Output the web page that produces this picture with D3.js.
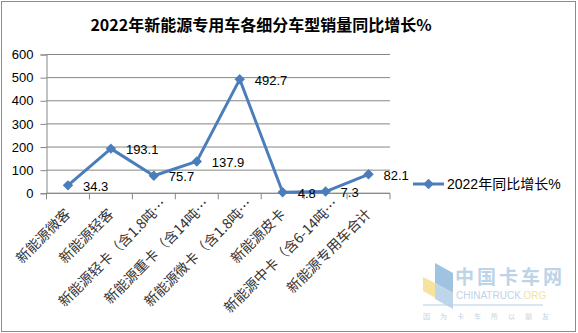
<!DOCTYPE html>
<html>
<head>
<meta charset="utf-8">
<script src="https://cdn.jsdelivr.net/npm/d3@7"></script>
<style>
  body { margin: 0; background: #fff; }
  svg text { font-family: "Liberation Sans", "Noto Sans CJK SC", sans-serif; }
</style>
</head>
<body>
<div id="chart"></div>
<script>
// data
var categories = ["新能源微客", "新能源轻客", "新能源轻卡（含1.8吨…", "新能源重卡（含14吨…",
    "新能源微卡（含1.8吨…", "新能源皮卡", "新能源中卡（含6-14吨…", "新能源专用车合计"];
var growth = [34.3, 193.1, 75.7, 137.9, 492.7, 4.8, 7.3, 82.1];
var yTicks = [0, 100, 200, 300, 400, 500, 600];
var seriesName = "2022年同比增长%";
var title = "2022年新能源专用车各细分车型销量同比增长%";

var width = 578, height = 333;
var blue = "#4a7ebb";
var gridColor = "#868686";

var margin = { top: 54.5, right: 188, bottom: 140, left: 46.5 };

var svg = d3.select("#chart").append("svg")
    .attr("width", width)
    .attr("height", height);

// outer frame
svg.append("rect")
    .attr("x", 1.5).attr("y", 1.5)
    .attr("width", width - 4).attr("height", height - 3)
    .attr("fill", "none")
    .attr("stroke", "#8c8c8c")
    .attr("stroke-width", 1);

svg.append("text")
    .attr("x", 261).attr("y", 31)
    .attr("text-anchor", "middle")
    .style("font-family", "'Noto Sans CJK SC', sans-serif")
    .style("font-weight", "bold")
    .style("font-size", "16px")
    .text(title);

var x = d3.scaleBand()
    .domain(categories)
    .range([margin.left, 390]);

var y = d3.scaleLinear()
    .domain([0, 600])
    .range([193.3, margin.top]);

// gridlines
svg.append("g")
    .selectAll("line")
    .data(yTicks).enter()
    .append("line")
    .attr("x1", margin.left).attr("x2", 390)
    .attr("y1", d => y(d)).attr("y2", d => y(d))
    .attr("stroke", gridColor)
    .attr("stroke-width", 1);

// y axis
var yAxis = svg.append("g")
    .attr("transform", `translate(${margin.left},0)`)
    .call(d3.axisLeft(y).tickValues(yTicks).tickSize(6).tickPadding(7));
yAxis.selectAll("path, line").attr("stroke", gridColor);
yAxis.selectAll("text").style("font-size", "13px").attr("fill", "#000")
    .attr("font-family", null);

// x axis with ticks between categories
var xAxis = svg.append("g")
    .attr("transform", `translate(0,${y(0)})`);
xAxis.append("line")
    .attr("x1", margin.left).attr("x2", 390)
    .attr("stroke", gridColor);
var bounds = categories.map(d => x(d)).concat([390]);
xAxis.selectAll(".tick")
    .data(bounds).enter()
    .append("line")
    .attr("x1", d => d).attr("x2", d => d)
    .attr("y1", 0).attr("y2", 6)
    .attr("stroke", gridColor);

// truncated labels let the ellipsis hang past the tick
xAxis.selectAll(".catLabel")
    .data(categories).enter()
    .append("text")
    .attr("class", "catLabel")
    .attr("transform", function(d) {
        var hang = d.endsWith("…") ? 10 : 0;
        return `translate(${x(d) + x.bandwidth() / 2 + hang},${18 - hang}) rotate(-45)`;
    })
    .attr("text-anchor", "end")
    .attr("dy", "0.35em")
    .style("font-family", "'Noto Sans CJK SC', sans-serif")
    .style("font-size", "14px")
    .attr("fill", "#333")
    .text(d => d);

// series
var line = d3.line()
    .x((d, i) => x(categories[i]) + x.bandwidth() / 2)
    .y(d => y(d));

svg.append("path")
    .datum(growth)
    .attr("d", line)
    .attr("fill", "none")
    .attr("stroke", blue)
    .attr("stroke-width", 3)
    .attr("stroke-linejoin", "round");

var diamond = d3.symbol().type(d3.symbolDiamond2).size(70);

svg.append("g")
    .selectAll("path")
    .data(growth).enter()
    .append("path")
    .attr("d", diamond)
    .attr("transform", (d, i) => `translate(${x(categories[i]) + x.bandwidth() / 2},${y(d)})`)
    .attr("fill", blue);

svg.append("g")
    .selectAll("text")
    .data(growth).enter()
    .append("text")
    .attr("x", (d, i) => x(categories[i]) + x.bandwidth() / 2 + 15)
    .attr("y", d => y(d) + 1)
    .attr("dy", "0.35em")
    .style("font-size", "13px")
    .text(d => d);

// legend
var legend = svg.append("g").attr("transform", "translate(413,184)");
legend.append("line")
    .attr("x1", 0).attr("x2", 31)
    .attr("stroke", blue).attr("stroke-width", 3);
legend.append("path")
    .attr("d", diamond)
    .attr("transform", "translate(15.5,0)")
    .attr("fill", blue);
legend.append("text")
    .attr("x", 34).attr("dy", "0.35em")
    .style("font-size", "14px")
    .text(seriesName);

// watermark
var wm = svg.append("g").attr("transform", "translate(423,263)").attr("opacity", 0.75);
wm.append("polygon").attr("points", "12,0 30,10 30,30 12,20").attr("fill", "#7fb0d8");
wm.append("polygon").attr("points", "0,14 12,20 30,30 18,38 0,28").attr("fill", "#f4dc7e");
wm.append("polygon").attr("points", "12,20 30,30 30,46 12,36").attr("fill", "#a9c9e4");
wm.append("text").attr("x", 32).attr("y", 21)
    .style("font-family", "'Noto Sans CJK SC', serif")
    .style("font-size", "19px").style("font-weight", "bold")
    .attr("fill", "#a8c6df").attr("letter-spacing", "3px")
    .text("中国卡车网");
var wmUrl = wm.append("text").attr("x", 33).attr("y", 36)
    .style("font-size", "10px").attr("fill", "#a8c6df");
wmUrl.append("tspan").text("CHINATRUCK.");
wmUrl.append("tspan").attr("fill", "#f1d77e").text("ORG");
wm.append("line").attr("x1", 0).attr("x2", 120).attr("y1", 42).attr("y2", 42)
    .attr("stroke", "#9fbfd8");
wm.append("text").attr("x", 0).attr("y", 56)
    .style("font-family", "'Noto Sans CJK SC', sans-serif")
    .style("font-size", "7px").attr("fill", "#b0c4d4").attr("letter-spacing", "10px")
    .text("因为卡车所以朋友");
</script>
</body>
</html>
